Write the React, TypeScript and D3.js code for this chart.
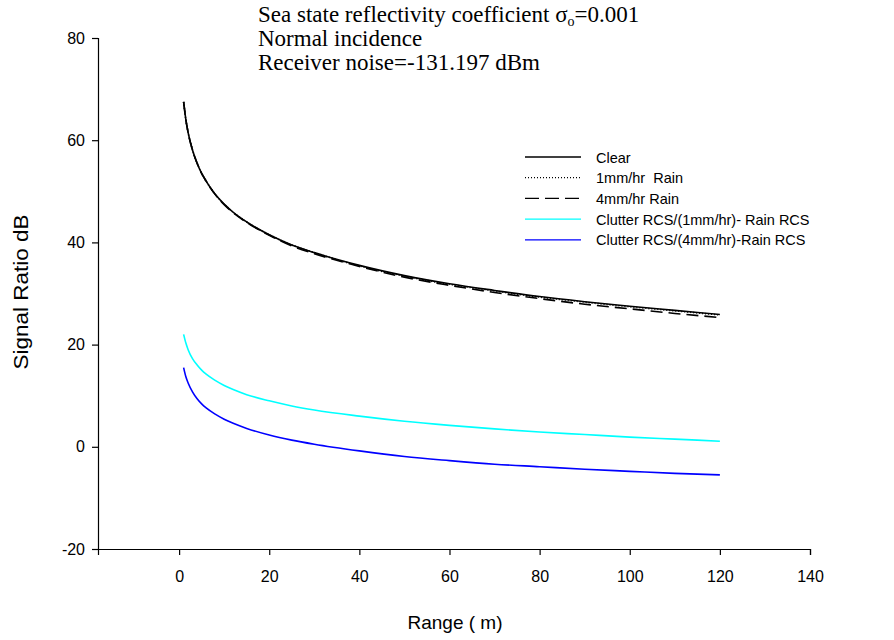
import React, { useEffect, useRef } from "react";
import * as d3 from "d3";

// Range (m) sample points
const ranges = [1, 1.5, 2, 3, 4, 5, 6, 8, 10, 12, 15, 20, 25, 30, 40, 50, 60, 70, 80, 90, 100, 110, 120];

const clear = [67.5, 64.0, 61.5, 58.0, 55.5, 53.5, 52.0, 49.4, 47.5, 45.9, 44.0, 41.5, 39.5, 38.0, 35.5, 33.5, 31.9, 30.6, 29.4, 28.4, 27.5, 26.7, 25.9];
const rain1 = [67.5, 64.0, 61.5, 58.0, 55.5, 53.5, 52.0, 49.4, 47.5, 45.9, 44.0, 41.5, 39.5, 38.0, 35.4, 33.4, 31.8, 30.5, 29.3, 28.3, 27.4, 26.6, 25.8];
const rain4 = [67.5, 64.0, 61.5, 58.0, 55.5, 53.5, 52.0, 49.4, 47.4, 45.8, 43.9, 41.4, 39.3, 37.8, 35.3, 33.2, 31.6, 30.2, 29.0, 27.9, 27.0, 26.1, 25.3];
const clutter1 = [22.0, 20.3, 19.0, 17.2, 16.0, 15.0, 14.2, 13.0, 12.0, 11.2, 10.2, 9.0, 8.0, 7.2, 6.0, 5.0, 4.2, 3.5, 2.9, 2.4, 1.9, 1.5, 1.1];
const clutter4 = [15.5, 13.7, 12.5, 10.7, 9.4, 8.4, 7.6, 6.4, 5.4, 4.6, 3.6, 2.3, 1.3, 0.5, -0.8, -1.9, -2.7, -3.4, -3.9, -4.4, -4.8, -5.2, -5.5];

const xTicks = [0, 20, 40, 60, 80, 100, 120, 140];
const yTicks = [-20, 0, 20, 40, 60, 80];

const seriesList = [
  { name: "Clear", values: clear, color: "#000000", dash: null },
  { name: "1mm/hr  Rain", values: rain1, color: "#000000", dash: "1,2" },
  { name: "4mm/hr Rain", values: rain4, color: "#000000", dash: "12,6" },
  { name: "Clutter RCS/(1mm/hr)- Rain RCS", values: clutter1, color: "#00ffff", dash: null },
  { name: "Clutter RCS/(4mm/hr)-Rain RCS", values: clutter4, color: "#0000ff", dash: null },
];

const notes = ["Normal incidence", "Receiver noise=-131.197 dBm"];

const SANS = "Liberation Sans, Arial, sans-serif";
const SERIF = "Liberation Serif, Times New Roman, serif";

function App() {
  const chartRef = useRef(null);

  useEffect(() => {
    const width = 894;
    const height = 640;
    const margin = { top: 38, right: 84, bottom: 91, left: 98 };

    d3.select(chartRef.current).selectAll("*").remove();

    const svg = d3.select(chartRef.current)
      .append("svg")
      .attr("width", width)
      .attr("height", height)
      .style("position", "absolute")
      .style("left", 0)
      .style("top", 0)
      .style("background", "#fff");

    const x = d3.scaleLinear()
      .domain([-18, 140])
      .range([margin.left, width - margin.right]);

    const y = d3.scaleLinear()
      .domain([-20, 80])
      .range([height - margin.bottom, margin.top]);

    const fmt = d => String(d);

    // X axis
    const xAxis = svg.append("g")
      .attr("transform", `translate(0,${height - margin.bottom})`)
      .call(d3.axisBottom(x).tickValues(xTicks).tickFormat(fmt).tickSizeOuter(0).tickSize(6).tickPadding(16));
    xAxis.selectAll("text")
      .style("font-family", SANS)
      .style("font-size", "16px")
      .attr("fill", "#000");

    // Y axis
    const yAxis = svg.append("g")
      .attr("transform", `translate(${margin.left},0)`)
      .call(d3.axisLeft(y).tickValues(yTicks).tickFormat(fmt).tickSizeOuter(0).tickSize(6).tickPadding(7));
    yAxis.selectAll("text")
      .style("font-family", SANS)
      .style("font-size", "16px")
      .attr("fill", "#000");

    svg.selectAll(".domain, .tick line").attr("stroke", "#000").attr("stroke-width", 1.2);

    // Axis titles
    svg.append("text")
      .attr("x", 455)
      .attr("y", 629)
      .attr("text-anchor", "middle")
      .style("font-family", SANS)
      .style("font-size", "19px")
      .text("Range ( m)");

    svg.append("text")
      .attr("transform", "translate(28,292) rotate(-90)")
      .attr("text-anchor", "middle")
      .style("font-family", SANS)
      .style("font-size", "21px")
      .attr("textLength", 155)
      .attr("lengthAdjust", "spacingAndGlyphs")
      .text("Signal Ratio dB");

    // Lines
    const line = d3.line()
      .x(d => x(d[0]))
      .y(d => y(d[1]))
      .curve(d3.curveMonotoneX);

    seriesList.forEach(s => {
      const path = svg.append("path")
        .datum(ranges.map((r, i) => [r, s.values[i]]))
        .attr("fill", "none")
        .attr("stroke", s.color)
        .attr("stroke-width", 1.6)
        .attr("d", line);
      if (s.dash) path.attr("stroke-dasharray", s.dash);
    });

    // Legend
    const legend = svg.append("g").attr("transform", "translate(525,157)");
    seriesList.forEach((s, i) => {
      const row = legend.append("g").attr("transform", `translate(0,${i * 20.7})`);
      const seg = row.append("line")
        .attr("x1", 0).attr("x2", 56)
        .attr("y1", 0).attr("y2", 0)
        .attr("stroke", s.color)
        .attr("stroke-width", 1.3);
      if (s.dash) seg.attr("stroke-dasharray", s.dash === "1,2" ? "1,2" : "14,6");
      row.append("text")
        .attr("x", 71)
        .attr("y", 5.5)
        .style("font-family", SANS)
        .style("font-size", "14.5px")
        .style("white-space", "pre")
        .text(s.name);
    });

    // Annotation
    const note = svg.append("text")
      .attr("x", 258)
      .attr("y", 22)
      .style("font-family", SERIF)
      .style("font-size", "23px");
    note.append("tspan").text("Sea state reflectivity coefficient \u03c3");
    note.append("tspan").attr("dy", 4).style("font-size", "14px").text("o");
    note.append("tspan").attr("dy", -4).text("=0.001");

    notes.forEach((t, i) => {
      svg.append("text")
        .attr("x", 258)
        .attr("y", 46 + i * 24)
        .style("font-family", SERIF)
        .style("font-size", "23px")
        .text(t);
    });
  }, []);

  return <div ref={chartRef}></div>;
}

export default App;
